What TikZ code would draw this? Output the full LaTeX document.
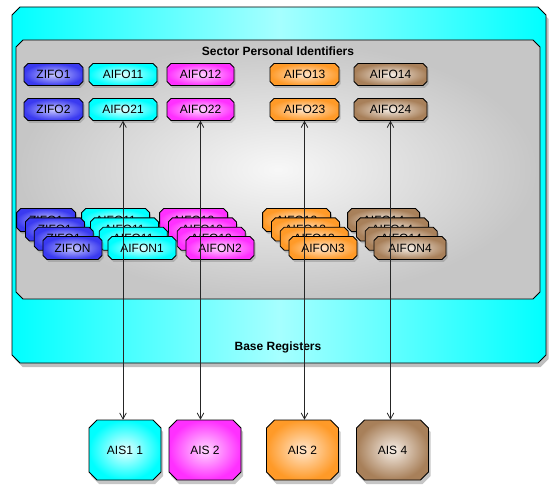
\documentclass[tikz,border=0pt]{standalone}
\usepackage{fontspec}
\setmainfont{Liberation Sans}
\usetikzlibrary{shadows,arrows.meta}
\definecolor{zblue}{HTML}{3A3AF0}
\definecolor{zbluein}{HTML}{C8C8FF}
\definecolor{ccyan}{HTML}{00FFFF}
\definecolor{ccyanin}{HTML}{E6FFFF}
\definecolor{cmag}{HTML}{FF30FF}
\definecolor{cmagin}{HTML}{FFD8FF}
\definecolor{corange}{HTML}{FF9A28}
\definecolor{corangein}{HTML}{FFE6CC}
\definecolor{cbrown}{HTML}{A8805A}
\definecolor{cbrownin}{HTML}{F6EEE6}
% #1 name, #2 x, #3 y, #4 width, #5 height, #6 chamfer (all px), #7 path style, #8 text
\newcommand\chambox[8]{%
  \path[#7] ({#2-#4/2+#6},{#3-#5/2}) -- ({#2+#4/2-#6},{#3-#5/2})
    -- ({#2+#4/2},{#3-#5/2+#6}) -- ({#2+#4/2},{#3+#5/2-#6})
    -- ({#2+#4/2-#6},{#3+#5/2}) -- ({#2-#4/2+#6},{#3+#5/2})
    -- ({#2-#4/2},{#3+#5/2-#6}) -- ({#2-#4/2},{#3-#5/2+#6}) -- cycle;
  \node[boxtext, minimum width={0.75pt*#4}, minimum height={0.75pt*#5}] (#1) at ({#2},{#3}) {#8};
}
\begin{document}
\begin{tikzpicture}[x=0.75pt,y=-0.75pt,
  boxtext/.style={inner sep=0pt, font=\fontsize{9}{10}\selectfont},
  chline/.style={draw=black, line width=0.6pt},
  smallshadow/.style={drop shadow={shadow xshift=1.2pt,shadow yshift=-1.8pt,opacity=0.4}},
  bigshadow/.style={drop shadow={shadow xshift=1.6pt,shadow yshift=-3pt,opacity=0.45}},
  zifo/.style={chline, smallshadow, inner color=zbluein, outer color=zblue},
  aifoc/.style={chline, smallshadow, inner color=ccyanin, outer color=ccyan},
  aifom/.style={chline, smallshadow, inner color=cmagin, outer color=cmag},
  aifoo/.style={chline, smallshadow, inner color=corangein, outer color=corange},
  aifob/.style={chline, smallshadow, inner color=cbrownin, outer color=cbrown},
  title/.style={font=\fontsize{9}{10}\selectfont\bfseries, inner sep=0pt},
  arr/.style={<->, >={Straight Barb[length=4.5pt,width=5pt]}, draw=black!85, line width=0.6pt}
]
\useasboundingbox (0,0) rectangle (556,495);

% outer and inner containers
\chambox{base}{279}{185}{534}{356}{8}{draw=black, line width=0.7pt,
  left color=ccyan, right color=ccyan, middle color=ccyan!35!white,
  drop shadow={shadow xshift=2pt,shadow yshift=-3pt,opacity=0.5}}{}
\chambox{sector}{278}{169.5}{524}{259}{7}{draw=black, line width=0.7pt,
  inner color=gray!6, outer color=gray!45}{}

\node[title] (sectortitle) at (278,51) {Sector Personal Identifiers};
\node[title] (basetitle) at (278,347) {Base Registers};

% rows
\chambox{zifo1}{53.5}{74.5}{59}{22}{4}{zifo}{ZIFO1}
\chambox{aifo11}{123}{74.5}{68}{22}{4}{aifoc}{AIFO11}
\chambox{aifo12}{200.5}{74.5}{67}{22}{4}{aifom}{AIFO12}
\chambox{aifo13}{304.5}{74.5}{69}{22}{4}{aifoo}{AIFO13}
\chambox{aifo14}{390.5}{74.5}{73}{22}{4}{aifob}{AIFO14}

\chambox{zifo2}{53.5}{109.5}{59}{22}{4}{zifo}{ZIFO2}
\chambox{aifo21}{123}{109.5}{68}{22}{4}{aifoc}{AIFO21}
\chambox{aifo22}{200.5}{109.5}{67}{22}{4}{aifom}{AIFO22}
\chambox{aifo23}{304.5}{109.5}{69}{22}{4}{aifoo}{AIFO23}
\chambox{aifo24}{390.5}{109.5}{73}{22}{4}{aifob}{AIFO24}

% stacks
\foreach \k in {3,2,1} {
  \chambox{zs\k}{72.5-8.8*\k}{248-9.3*\k}{59}{23}{4}{zifo}{ZIFO1}
  \chambox{cs\k}{142-8.8*\k}{248-9.3*\k}{68}{23}{4}{aifoc}{AIFO11}
  \chambox{ms\k}{220-8.8*\k}{248-9.3*\k}{68}{23}{4}{aifom}{AIFO12}
  \chambox{os\k}{323-8.8*\k}{248-9.3*\k}{68}{23}{4}{aifoo}{AIFO13}
  \chambox{bs\k}{410-8.8*\k}{248-9.3*\k}{72}{23}{4}{aifob}{AIFO14}
}
\chambox{zifon}{72.5}{248}{59}{23}{4}{zifo}{ZIFON}
\chambox{aifon1}{142}{248}{68}{23}{4}{aifoc}{AIFON1}
\chambox{aifon2}{220}{248}{68}{23}{4}{aifom}{AIFON2}
\chambox{aifon3}{323}{248}{68}{23}{4}{aifoo}{AIFON3}
\chambox{aifon4}{410}{248}{72}{23}{4}{aifob}{AIFON4}

% AIS boxes
\chambox{ais1}{125}{450}{72}{60}{8}{chline, bigshadow, inner color=ccyanin, outer color=ccyan}{AIS1 1}
\chambox{ais2}{205}{450}{72}{60}{8}{chline, bigshadow, inner color=cmagin, outer color=cmag}{AIS 2}
\chambox{ais3}{302.5}{450}{72}{60}{8}{chline, bigshadow, inner color=corangein, outer color=corange}{AIS 2}
\chambox{ais4}{392.5}{450}{72}{60}{8}{chline, bigshadow, inner color=cbrownin, outer color=cbrown}{AIS 4}

% connectors
\draw[arr] (aifo21.south) -- (aifo21.south |- ais1.north);
\draw[arr] (aifo22.south) -- (aifo22.south |- ais2.north);
\draw[arr] (aifo23.south) -- (aifo23.south |- ais3.north);
\draw[arr] (aifo24.south) -- (aifo24.south |- ais4.north);
\end{tikzpicture}
\end{document}
